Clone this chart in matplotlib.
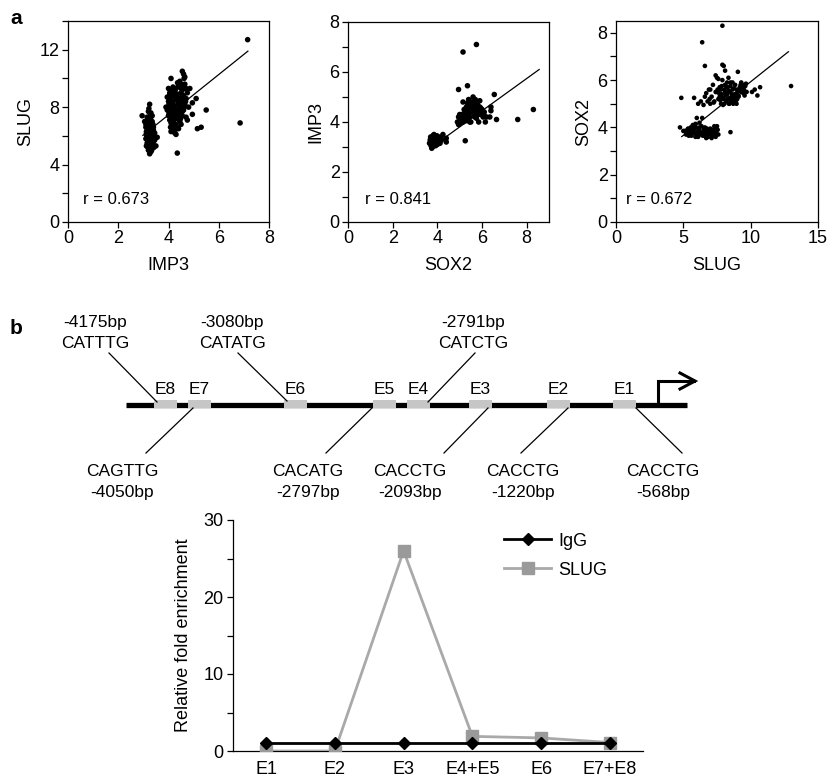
import numpy as np
import matplotlib
matplotlib.use('Agg')
import matplotlib.pyplot as plt
from matplotlib.patches import Rectangle

plt.rcParams['font.family'] = ['Liberation Sans', 'DejaVu Sans']

# panel a, IMP3 vs SLUG
imp3_a = [3.25, 3.2, 3.3, 3.15, 3.28, 3.35, 3.2, 3.1, 3.3, 3.4, 3.18, 3.25, 3.12, 3.35, 3.22, 3.3,
          3.15, 3.4, 3.25, 3.1, 3.32, 3.2, 3.28, 3.15, 3.38, 3.22, 3.3, 3.18, 3.42, 3.25, 3.2, 3.3,
          3.25, 3.1, 3.38, 3.05, 3.45, 3.5, 3.55, 3.45, 2.95, 3.12, 3.35, 3.2, 3.27, 3.33, 3.15, 3.4,
          3.22, 3.28, 3.18, 3.3, 3.24, 3.36, 3.14, 3.26, 3.2, 3.34, 3.28, 3.23, 3.37, 3.12,
          4.1, 4.55, 4.6, 4.65, 4.5, 4.4, 4.6, 4.7, 4.0, 4.15, 4.25, 4.05, 4.5, 4.35, 4.6, 4.2,
          3.95, 4.1, 4.45, 4.7, 4.3, 4.0, 4.55, 4.15, 4.4, 4.65, 4.25, 4.05, 4.5, 4.2, 4.35, 3.95,
          4.6, 4.1, 4.45, 4.25, 4.0, 4.55, 4.15, 4.35, 4.05, 4.2, 4.45, 4.1, 4.3, 4.15, 4.2, 4.25,
          4.1, 4.3, 4.4, 4.5, 4.7, 4.75, 4.8, 4.3, 4.45, 4.55, 3.9, 4.05, 4.38, 4.62, 4.25, 4.12,
          4.48, 4.33, 4.22, 4.52, 4.08, 4.42,
          4.02, 4.12, 4.28, 4.18, 4.48, 4.58, 4.68, 4.32, 4.18, 4.08, 4.28, 4.22, 4.4, 4.55, 4.02,
          4.65, 4.62, 4.36,
          7.15, 6.85, 5.5, 5.3, 5.15, 5.1, 4.95, 4.95, 4.85, 4.35, 4.75]
slug_a = [8.2, 7.7, 7.6, 7.3, 7.2, 7.0, 6.9, 6.8, 6.7, 6.6, 6.5, 6.4, 6.3, 6.3, 6.2, 6.1,
          6.0, 6.0, 5.9, 5.8, 5.8, 5.7, 5.6, 5.5, 5.5, 5.4, 5.3, 5.2, 5.2, 5.1, 5.0, 4.9,
          4.75, 6.6, 6.8, 7.0, 6.2, 5.3, 5.9, 5.7, 7.4, 5.3, 7.4, 6.0, 6.6, 5.0, 6.7, 6.4,
          7.9, 7.5, 7.1, 6.9, 6.45, 6.15, 5.95, 5.65, 5.35, 5.15, 4.95, 6.75, 5.6, 6.15,
          10.0, 10.5, 10.3, 10.1, 9.6, 9.5, 9.4, 9.3, 9.3, 9.2, 9.1, 9.0, 9.0, 8.9, 8.8, 8.8,
          8.7, 8.6, 8.6, 8.6, 8.5, 8.4, 8.4, 8.3, 8.2, 8.2, 8.1, 8.0, 8.0, 7.9, 7.8, 7.8,
          7.8, 7.7, 7.6, 7.5, 7.4, 7.4, 7.3, 7.2, 7.1, 7.0, 7.0, 6.9, 6.8, 6.6, 6.4, 6.2,
          6.3, 6.1, 6.5, 6.8, 7.3, 9.0, 8.0, 9.3, 9.8, 9.2, 8.0, 8.9, 8.4, 8.0, 7.7, 7.5,
          7.2, 6.6, 9.0, 8.7, 7.9, 7.9,
          8.2, 8.45, 8.75, 9.4, 9.35, 8.55, 8.4, 7.35, 7.15, 6.6, 6.45, 6.7, 7.5, 7.7, 7.6,
          9.6, 10.0, 9.7,
          12.7, 6.9, 7.8, 6.6, 6.5, 8.6, 7.5, 8.3, 9.3, 4.8, 7.1]
fit1_x = [2.98, 7.16]
fit1_y = [6.03, 11.9]

# SOX2 vs IMP3
sox2_b = [3.7, 3.75, 3.8, 3.85, 3.9, 3.95, 4.0, 3.72, 3.82, 3.92, 4.05, 4.1, 3.78, 3.88, 3.98, 3.65,
          4.15, 3.8, 3.93, 3.75, 4.0, 4.2, 4.4, 4.4, 4.25, 3.85, 4.08, 3.7,
          3.77, 3.87, 3.97, 3.83, 4.03, 3.68, 3.9, 4.12,
          4.9, 4.95, 5.0, 5.05, 5.1, 5.15, 5.2, 5.25, 5.3, 5.35, 5.4, 5.45, 5.5, 5.55, 5.6, 5.65,
          5.7, 5.75, 5.8, 5.85, 5.9, 5.95, 6.0, 6.05, 6.1, 5.6, 5.7, 5.5, 5.4, 5.3, 5.2, 5.0,
          5.1, 4.95, 5.45, 5.75, 5.85, 6.2, 6.15, 5.65, 5.55, 5.35, 5.15, 5.8, 5.9,
          5.02, 5.12, 5.22, 5.32, 5.42, 5.52, 5.62, 5.72, 5.82, 5.6, 5.48, 5.28, 5.68, 6.08, 5.95,
          5.15, 5.75, 5.35, 4.95, 6.55, 7.6, 8.3, 6.65, 6.4, 6.35, 5.25, 6.4]
imp3_b = [3.2, 3.3, 3.1, 3.25, 3.35, 3.15, 3.3, 3.05, 3.4, 3.05, 3.2, 3.35, 3.0, 3.2, 3.45, 3.15,
          3.25, 3.45, 3.28, 2.95, 3.1, 3.3, 3.2, 3.35, 3.5, 3.5, 3.4, 3.4,
          3.15, 3.32, 3.22, 3.05, 3.38, 3.28, 3.42, 3.15,
          4.0, 4.2, 3.95, 4.1, 4.3, 4.0, 4.2, 4.4, 4.1, 4.3, 4.5, 4.2, 4.0, 4.4, 4.6, 4.3,
          4.8, 4.5, 4.7, 4.4, 4.6, 4.3, 4.5, 4.2, 4.4, 5.0, 4.9, 4.7, 4.9, 4.6, 4.5, 4.3,
          4.1, 3.9, 4.0, 4.15, 4.0, 4.2, 4.0, 4.6, 4.8, 4.75, 4.8, 4.6, 4.85,
          4.05, 4.22, 4.35, 4.25, 4.35, 4.55, 4.45, 4.65, 4.3, 4.75, 4.6, 4.05, 4.2, 4.3, 4.55,
          6.8, 7.1, 5.45, 5.3, 5.1, 4.1, 4.5, 4.1, 4.6, 4.2, 3.25, 4.45]
fit2_x = [4.19, 8.56]
fit2_y = [3.28, 6.1]

# SLUG vs SOX2
slug_c = [4.75, 5.0, 5.2, 5.3, 5.45, 5.55, 5.6, 5.75, 5.85, 5.95, 6.05, 6.15, 6.25, 6.35, 6.45, 6.55,
          6.65, 6.75, 6.85, 6.95, 7.05, 7.15, 7.25, 7.35, 7.45, 7.55, 7.5, 6.0, 6.4, 6.2, 5.9, 6.7,
          6.9, 7.1, 5.4, 6.1, 6.6, 5.7, 8.5, 7.3,
          5.5, 5.8, 6.0, 6.3, 6.5, 6.8, 7.0, 7.2, 7.4, 6.2, 5.65, 6.6,
          5.25, 5.35, 5.9, 6.1, 6.45, 6.7, 6.9, 7.1, 7.3, 7.6, 5.1, 6.85,
          5.8, 6.1, 6.3, 6.5, 6.6, 6.8, 6.9, 7.0, 7.1, 7.2, 7.3, 7.4, 7.5, 7.6, 7.7, 7.8,
          7.85, 7.9, 8.0, 8.05, 8.1, 8.2, 8.25, 8.3, 8.4, 8.45, 8.5, 8.6, 8.65, 8.7, 8.8, 8.85,
          8.9, 9.0, 9.05, 9.1, 9.2, 9.3, 9.4, 9.5, 9.6, 9.7, 8.0, 7.4, 7.6, 8.1, 8.95, 7.95,
          9.3, 8.35, 7.0,
          7.65, 7.75, 8.15, 8.35, 8.55, 8.75, 8.95, 9.15, 9.35, 8.45, 8.05, 7.55, 8.25, 8.6, 9.45,
          7.7, 7.8, 7.95, 8.1, 8.3, 8.5, 8.7, 8.9, 9.1, 9.25, 8.2, 8.4, 8.8, 7.85, 8.65, 9.0,
          6.7, 6.95, 7.25, 7.45, 9.55, 9.65,
          7.9, 6.4, 6.6, 7.9, 13.0, 4.85, 10.7, 10.3, 10.1, 10.5]
sox2_c = [4.0, 3.85, 3.7, 3.9, 3.8, 4.0, 3.65, 3.85, 3.75, 4.0, 3.7, 3.9, 3.8, 4.05, 3.65, 3.85,
          3.75, 3.95, 3.6, 3.8, 3.7, 3.9, 3.65, 3.8, 3.75, 3.9, 4.05, 4.4, 4.4, 4.2, 4.15, 3.55,
          3.9, 3.55, 3.65, 3.6, 4.0, 4.1, 3.8, 4.05,
          3.9, 3.95, 3.8, 3.7, 3.9, 3.75, 3.95, 3.75, 3.6, 4.0, 3.75, 3.65,
          3.75, 3.95, 3.6, 3.85, 3.75, 3.9, 3.7, 3.85, 3.9, 3.7, 3.85, 3.65,
          5.25, 5.0, 5.1, 4.95, 5.3, 5.1, 5.6, 5.0, 5.3, 5.8, 5.1, 5.5, 6.1, 5.2, 5.7, 5.0,
          5.4, 6.0, 5.2, 5.6, 5.8, 5.1, 5.4, 5.7, 5.0, 5.5, 5.9, 5.2, 5.6, 5.0, 5.4, 5.8,
          5.1, 5.6, 6.35, 5.3, 5.7, 5.5, 5.8, 5.6, 5.75, 5.5, 6.6, 6.2, 6.05, 6.4, 5.0, 4.95,
          5.9, 6.1, 5.6,
          5.45, 5.15, 5.35, 5.55, 5.1, 5.65, 5.45, 5.55, 5.7, 5.25, 5.0, 5.6, 5.9, 5.4, 5.45,
          5.3, 5.6, 5.25, 5.5, 5.2, 5.75, 5.3, 5.25, 5.35, 5.8, 5.7, 5.0, 5.15, 5.75, 5.9, 5.2,
          5.45, 5.2, 5.05, 5.5, 5.35, 5.85,
          8.3, 7.6, 6.6, 6.65, 5.75, 5.25, 5.7, 5.6, 5.5, 5.35]
fit3_x = [4.88, 12.8]
fit3_y = [3.61, 7.2]

# panel b, ChIP
sites = ['E1', 'E2', 'E3', 'E4+E5', 'E6', 'E7+E8']
igg = [1.0, 1.0, 1.0, 1.0, 1.0, 1.0]
slug_chip = [0.0, 0.0, 26.0, 1.9, 1.7, 1.1]

# promoter map
box_names = ['E8', 'E7', 'E6', 'E5', 'E4', 'E3', 'E2', 'E1']
top_labels = [('-4175bp', 'CATTTG'), ('-3080bp', 'CATATG'), ('-2791bp', 'CATCTG')]
bottom_labels = [('CAGTTG', '-4050bp'), ('CACATG', '-2797bp'), ('CACCTG', '-2093bp'),
                 ('CACCTG', '-1220bp'), ('CACCTG', '-568bp')]

fig = plt.figure(figsize=(8.3, 7.83), dpi=100)

def scatter_panel(rect, x, y, fx, fy, xlab, ylab, r, xlim, ylim, xt, yt, ymin, rx, ms):
    ax = fig.add_axes(rect)
    ax.scatter(x, y, s=ms, color='black', edgecolors='none', zorder=3)
    ax.plot(fx, fy, color='black', lw=0.9)
    ax.set_xlim(xlim)
    ax.set_ylim(ylim)
    ax.set_xticks(xt)
    ax.set_yticks(yt)
    ax.set_yticks(ymin, minor=True)
    ax.tick_params(which='both', direction='out', length=4, width=0.9, labelsize=13, pad=2)
    ax.tick_params(top=False, right=False)
    for s in ax.spines.values():
        s.set_linewidth(0.9)
    ax.set_xlabel(xlab, fontsize=13, labelpad=7)
    ax.set_ylabel(ylab, fontsize=13, labelpad=4)
    ax.text(rx, 0.11, r, transform=ax.transAxes, fontsize=12, va='center')
    return ax

W, H = 830.0, 783.0
def rect(x0, y0, x1, y1):
    return [x0 / W, 1 - y1 / H, (x1 - x0) / W, (y1 - y0) / H]

scatter_panel(rect(68, 21, 269, 222), imp3_a, slug_a, fit1_x, fit1_y, 'IMP3', 'SLUG', 'r = 0.673',
              (0, 8), (0, 14), [0, 2, 4, 6, 8], [0, 4, 8, 12], [2, 6, 10, 14], 0.075, 16)
scatter_panel(rect(348, 22, 549, 222), sox2_b, imp3_b, fit2_x, fit2_y, 'SOX2', 'IMP3', 'r = 0.841',
              (0, 9), (0, 8), [0, 2, 4, 6, 8], [0, 2, 4, 6, 8], [1, 3, 5, 7], 0.085, 16)
scatter_panel(rect(616, 21, 818, 222), slug_c, sox2_c, fit3_x, fit3_y, 'SLUG', 'SOX2', 'r = 0.672',
              (0, 15), (0, 8.5), [0, 5, 10, 15], [0, 2, 4, 6, 8], [1, 3, 5, 7], 0.05, 11)

# schematic drawn in pixel coords
gx = fig.add_axes([0, 0, 1, 1], zorder=-1)
gx.set_xlim(0, W)
gx.set_ylim(H, 0)
gx.axis('off')
gx.text(16, 18, 'a', fontsize=15, fontweight='bold', ha='center', va='center')
gx.text(16, 328, 'b', fontsize=15, fontweight='bold', ha='center', va='center')

gx.plot([126, 687], [405, 405], color='black', lw=3.8, solid_capstyle='butt', zorder=1)
box_x = [154, 188, 284, 373, 407, 469, 547, 613]
for name, bx in zip(box_names, box_x):
    gx.add_patch(Rectangle((bx, 400), 23, 7.5, facecolor='#c6c6c6', edgecolor='none', zorder=2))
    gx.text(bx + 11.5, 389, name, fontsize=12.5, ha='center', va='center')

# TSS arrow
gx.plot([658, 658, 694], [405, 381, 381], color='black', lw=2.2, solid_joinstyle='miter')
gx.plot([680, 695, 680], [373, 381, 389], color='black', lw=2.2, solid_joinstyle='miter')

top_x = [95, 232, 473]
top_lines = [((109, 353), (157, 402)), ((238, 353), (287, 401)), ((475, 353), (428, 402))]
for (l1, l2), tx, (p0, p1) in zip(top_labels, top_x, top_lines):
    gx.text(tx, 322, l1, fontsize=12.5, ha='center', va='center')
    gx.text(tx, 343, l2, fontsize=12.5, ha='center', va='center')
    gx.plot([p0[0], p1[0]], [p0[1], p1[1]], color='black', lw=0.9)

bot_x = [122, 308, 410, 523, 663]
bot_lines = [((193, 408), (146, 453)), ((372, 408), (326, 453)), ((488, 408), (444, 453)),
             ((568, 408), (521, 453)), ((636, 408), (682, 453))]
for (l1, l2), tx, (p0, p1) in zip(bottom_labels, bot_x, bot_lines):
    gx.text(tx, 471, l1, fontsize=12.5, ha='center', va='center')
    gx.text(tx, 492, l2, fontsize=12.5, ha='center', va='center')
    gx.plot([p0[0], p1[0]], [p0[1], p1[1]], color='black', lw=0.9)

# enrichment line chart
ax = fig.add_axes(rect(233, 520, 643, 751))
xs = np.arange(len(sites))
ax.plot(xs, igg, color='black', lw=2, marker='D', markersize=6.5, label='IgG', zorder=4)
ax.plot(xs, slug_chip, color='#a9a9a9', lw=2, marker='s', markersize=8,
        markerfacecolor='#9a9a9a', markeredgecolor='#9a9a9a', label='SLUG', zorder=3)
ax.set_xlim(-0.48, 5.48)
ax.set_ylim(0, 30)
ax.set_xticks(xs)
ax.set_xticklabels(sites)
ax.set_yticks([0, 5, 10, 15, 20, 25, 30])
ax.set_yticklabels(['0', '', '10', '', '20', '', '30'])
ax.tick_params(axis='x', length=0, pad=7, labelsize=13)
ax.tick_params(axis='y', direction='out', length=4, width=0.9, labelsize=13, pad=3)
ax.spines['top'].set_visible(False)
ax.spines['right'].set_visible(False)
ax.spines['left'].set_linewidth(0.9)
ax.spines['bottom'].set_linewidth(0.9)
ax.set_ylabel('Relative fold enrichment', fontsize=13, labelpad=8)
ax.legend(loc='upper left', bbox_to_anchor=(0.622, 1.015), frameon=False, fontsize=13,
          handlelength=2.6, handletextpad=0.4, labelspacing=0.65, borderpad=0.4)

fig.savefig('out.png', dpi=100)
